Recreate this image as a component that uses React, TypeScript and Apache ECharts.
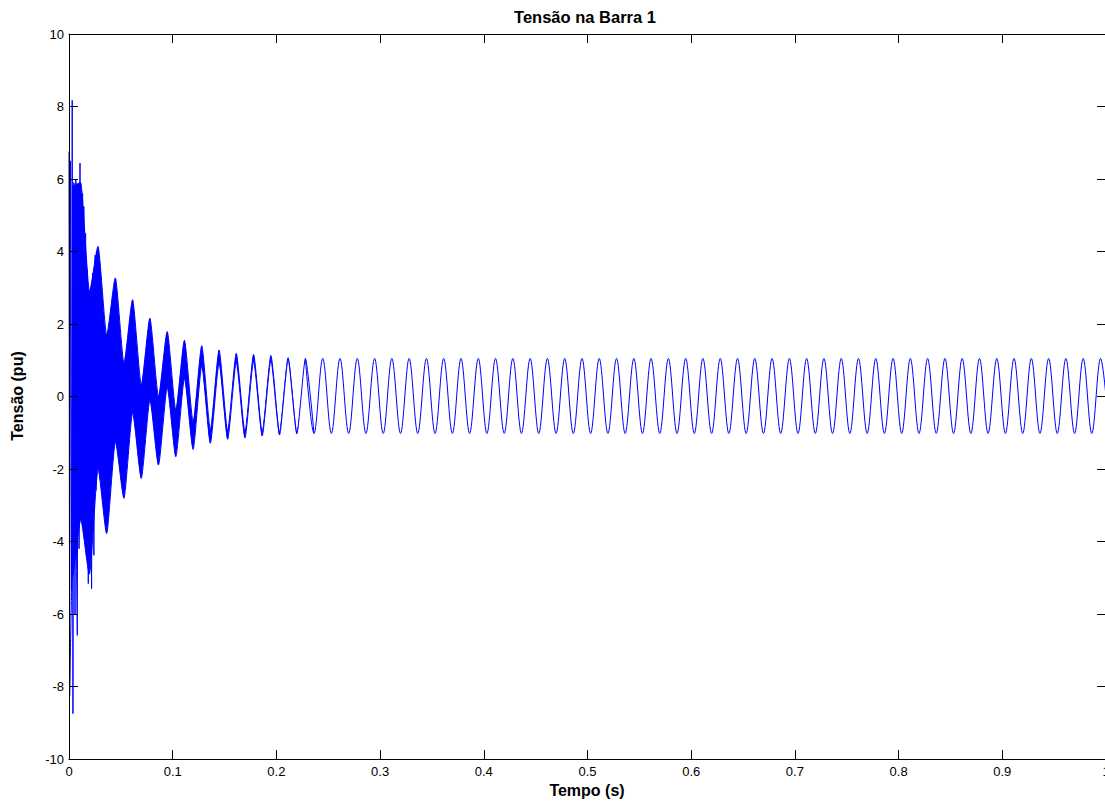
import React, { useEffect, useRef } from "react";
import * as echarts from "echarts";

// Times (s) of the successive troughs / peaks of the 60 Hz waveform
const extremaTimes = [
  0.0030, 0.0113, 0.0197, 0.0280, 0.0363, 0.0447, 0.0530, 0.0613, 0.0697, 0.0780,
  0.0863, 0.0947, 0.1030, 0.1113, 0.1197, 0.1280, 0.1363, 0.1447, 0.1530, 0.1613,
  0.1697, 0.1780, 0.1863, 0.1947, 0.2030, 0.2113, 0.2197, 0.2280, 0.2363, 0.2447,
  0.2530, 0.2613, 0.2697, 0.2780, 0.2863, 0.2947, 0.3030, 0.3113, 0.3197, 0.3280,
  0.3363, 0.3447, 0.3530, 0.3613, 0.3697, 0.3780, 0.3863, 0.3947, 0.4030, 0.4113,
  0.4197, 0.4280, 0.4363, 0.4447, 0.4530, 0.4613, 0.4697, 0.4780, 0.4863, 0.4947,
  0.5030, 0.5113, 0.5197, 0.5280, 0.5363, 0.5447, 0.5530, 0.5613, 0.5697, 0.5780,
  0.5863, 0.5947, 0.6030, 0.6113, 0.6197, 0.6280, 0.6363, 0.6447, 0.6530, 0.6613,
  0.6697, 0.6780, 0.6863, 0.6947, 0.7030, 0.7113, 0.7197, 0.7280, 0.7363, 0.7447,
  0.7530, 0.7613, 0.7697, 0.7780, 0.7863, 0.7947, 0.8030, 0.8113, 0.8197, 0.8280,
  0.8363, 0.8447, 0.8530, 0.8613, 0.8697, 0.8780, 0.8863, 0.8947, 0.9030, 0.9113,
  0.9197, 0.9280, 0.9363, 0.9447, 0.9530, 0.9613, 0.9697, 0.9780, 0.9863, 0.9947,
  1.0030,
];

// Upper edge of the trace (pu) at each of those times
const upperEdge = [
  5.8, 5.9, 2.9, 4.14, 1.7, 3.27, 0.92, 2.67, 0.32, 2.16,
  0.0, 1.79, -0.37, 1.55, -0.7, 1.4, -0.92, 1.28, -0.95, 1.19,
  -0.98, 1.16, -0.99, 1.13, -1.0, 1.07, -1.01, 1.05, -1.02, 1.05,
  -1.02, 1.05, -1.02, 1.05, -1.02, 1.05, -1.02, 1.05, -1.02, 1.05,
  -1.02, 1.05, -1.02, 1.05, -1.02, 1.05, -1.02, 1.05, -1.02, 1.05,
  -1.02, 1.05, -1.02, 1.05, -1.02, 1.05, -1.02, 1.05, -1.02, 1.05,
  -1.02, 1.05, -1.02, 1.05, -1.02, 1.05, -1.02, 1.05, -1.02, 1.05,
  -1.02, 1.05, -1.02, 1.05, -1.02, 1.05, -1.02, 1.05, -1.02, 1.05,
  -1.02, 1.05, -1.02, 1.05, -1.02, 1.05, -1.02, 1.05, -1.02, 1.05,
  -1.02, 1.05, -1.02, 1.05, -1.02, 1.05, -1.02, 1.05, -1.02, 1.05,
  -1.02, 1.05, -1.02, 1.05, -1.02, 1.05, -1.02, 1.05, -1.02, 1.05,
  -1.02, 1.05, -1.02, 1.05, -1.02, 1.05, -1.02, 1.05, -1.02, 1.05,
  -1.02,
];

// Lower edge of the trace (pu) at each of those times
const lowerEdge = [
  -5.0, -3.4, -4.9, -2.0, -3.78, -1.25, -2.81, -0.45, -2.26, -0.1,
  -1.89, 0.25, -1.66, 0.5, -1.46, 0.85, -1.29, 0.92, -1.18, 0.95,
  -1.14, 0.98, -1.09, 1.0, -1.06, 1.02, -1.03, 1.04, -1.02, 1.05,
  -1.02, 1.05, -1.02, 1.05, -1.02, 1.05, -1.02, 1.05, -1.02, 1.05,
  -1.02, 1.05, -1.02, 1.05, -1.02, 1.05, -1.02, 1.05, -1.02, 1.05,
  -1.02, 1.05, -1.02, 1.05, -1.02, 1.05, -1.02, 1.05, -1.02, 1.05,
  -1.02, 1.05, -1.02, 1.05, -1.02, 1.05, -1.02, 1.05, -1.02, 1.05,
  -1.02, 1.05, -1.02, 1.05, -1.02, 1.05, -1.02, 1.05, -1.02, 1.05,
  -1.02, 1.05, -1.02, 1.05, -1.02, 1.05, -1.02, 1.05, -1.02, 1.05,
  -1.02, 1.05, -1.02, 1.05, -1.02, 1.05, -1.02, 1.05, -1.02, 1.05,
  -1.02, 1.05, -1.02, 1.05, -1.02, 1.05, -1.02, 1.05, -1.02, 1.05,
  -1.02, 1.05, -1.02, 1.05, -1.02, 1.05, -1.02, 1.05, -1.02, 1.05,
  -1.02,
];

// Early transient spikes (time s, value pu)
const spikeTimes = [
  0.0, 0.0006, 0.0015, 0.0025, 0.0031, 0.0038, 0.0047, 0.0058, 0.0066, 0.0073,
  0.008, 0.009, 0.0097, 0.0106, 0.0118, 0.0131, 0.0137, 0.0143, 0.015, 0.016,
  0.017, 0.0176, 0.0186, 0.0196, 0.0218, 0.0228, 0.024, 0.0252, 0.0262,
];
const spikeValues = [
  6.76, -8.25, 6.5, -5.35, 8.17, -8.75, 5.9, -6.0, 6.0, -4.8,
  -6.59, 5.5, -4.2, 6.44, -3.4, 5.6, -3.0, 5.24, -3.5, 4.5,
  -4.4, 3.5, -5.16, 2.9, -5.3, 3.4, -4.38, 3.9, -2.6,
];

const xTickLabels = ["0", "0.1", "0.2", "0.3", "0.4", "0.5", "0.6", "0.7", "0.8", "0.9", "1"];
const yTickLabels = ["-10", "-8", "-6", "-4", "-2", "0", "2", "4", "6", "8", "10"];

// index in extremaTimes where the thick transient band ends and the clean sine starts
const BAND_END = 27;

const FONT = 'Arial, "Liberation Sans", Helvetica, sans-serif';
const BLUE = "#0000ff";

export default function App() {
  const ref = useRef<HTMLDivElement>(null);

  useEffect(() => {
    if (!ref.current) return;
    const chart = echarts.init(ref.current, undefined, { renderer: "svg" });

    const upperBand = extremaTimes.slice(0, BAND_END + 1).map((t, i) => [t, upperEdge[i]]);
    // the white mask starts at the first negative spike and runs one extremum past the band,
    // so that it fully hides the edges of the blue fill
    const lowerBand = [
      [spikeTimes[1], spikeValues[1]],
      ...extremaTimes.slice(0, BAND_END + 2).map((t, i) => [t, lowerEdge[i]]),
    ];
    const steady = extremaTimes
      .map((t, i) => [t, (upperEdge[i] + lowerEdge[i]) / 2])
      .slice(BAND_END);
    const spikeData = spikeTimes.map((t, i) => [t, spikeValues[i]]);

    const xBase = {
      type: "value",
      min: 0,
      max: 1,
      interval: 0.1,
      z: 10,
      axisLine: { show: true, onZero: false, lineStyle: { color: "#000", width: 1 } },
      axisTick: { show: true, inside: true, length: 9, lineStyle: { color: "#000", width: 1 } },
      splitLine: { show: false },
    };
    const yBase = {
      type: "value",
      min: -10,
      max: 10,
      interval: 2,
      z: 10,
      axisLine: { show: true, onZero: false, lineStyle: { color: "#000", width: 1 } },
      axisTick: { show: true, inside: true, length: 9, lineStyle: { color: "#000", width: 1 } },
      splitLine: { show: false },
    };

    const lineCommon = {
      type: "line",
      smoothMonotone: "x",
      showSymbol: false,
      symbol: "none",
      lineStyle: { color: BLUE, width: 1 },
      itemStyle: { color: BLUE },
    };

    chart.setOption({
      animation: false,
      backgroundColor: "#ffffff",
      grid: {
        left: 69,
        right: -1,
        top: 34,
        bottom: 44,
        containLabel: false,
        outerBoundsMode: "none",
      },
      xAxis: [
        {
          ...xBase,
          position: "bottom",
          axisLabel: {
            show: true,
            margin: 6,
            color: "#000",
            fontFamily: FONT,
            fontSize: 13,
            formatter: (v: number) => xTickLabels[Math.round(v * 10)],
          },
        },
        { ...xBase, position: "top", axisLabel: { show: false } },
      ],
      yAxis: [
        {
          ...yBase,
          position: "left",
          axisLabel: {
            show: true,
            margin: 5,
            color: "#000",
            fontFamily: FONT,
            fontSize: 13,
            formatter: (v: number) => yTickLabels[Math.round((v + 10) / 2)],
          },
        },
        { ...yBase, position: "right", axisLabel: { show: false } },
      ],
      graphic: [
        {
          type: "text",
          x: 585,
          y: 17,
          style: {
            text: "Tensão na Barra 1",
            fill: "#000",
            font: `bold 16.5px ${FONT}`,
            align: "center",
            verticalAlign: "middle",
          },
        },
        {
          type: "text",
          x: 587,
          y: 790,
          style: {
            text: "Tempo (s)",
            fill: "#000",
            font: `bold 16px ${FONT}`,
            align: "center",
            verticalAlign: "middle",
          },
        },
        {
          type: "text",
          x: 17,
          y: 396,
          rotation: Math.PI / 2,
          style: {
            text: "Tensão (pu)",
            fill: "#000",
            font: `bold 16px ${FONT}`,
            align: "center",
            verticalAlign: "middle",
          },
        },
      ],
      series: [
        {
          // blue fill from the upper edge of the transient band down to the axis bottom
          ...lineCommon,
          smooth: 0.2,
          name: "upper",
          data: upperBand,
          areaStyle: { color: BLUE, opacity: 1, origin: "start" },
          z: 2,
        },
        {
          // white fill below the lower edge, leaving the band between the edges blue
          ...lineCommon,
          smooth: 0.2,
          name: "lower",
          data: lowerBand,
          areaStyle: { color: "#ffffff", opacity: 1, origin: "start" },
          z: 3,
        },
        {
          ...lineCommon,
          smooth: 0.35,
          name: "steady",
          data: steady,
          z: 4,
        },
        {
          type: "line",
          name: "spikes",
          data: spikeData,
          showSymbol: false,
          symbol: "none",
          lineStyle: { color: BLUE, width: 1 },
          itemStyle: { color: BLUE },
          z: 4,
        },
      ],
    });

    return () => chart.dispose();
  }, []);

  return (
    <div
      ref={ref}
      style={{ position: "fixed", left: 0, top: 0, width: 1105, height: 803, background: "#fff" }}
    />
  );
}
